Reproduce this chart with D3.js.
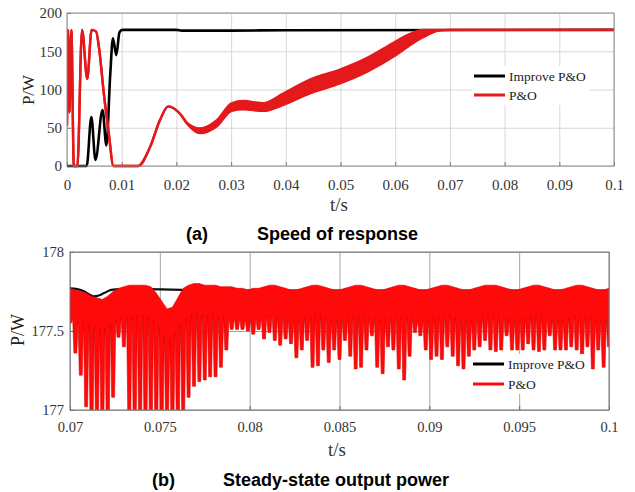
<!DOCTYPE html>
<html>
<head>
<meta charset="utf-8">
<script src="https://cdn.jsdelivr.net/npm/d3@7"></script>
<style>
  body { margin: 0; background: #fff; }
  svg { display: block; font-family: "Liberation Serif", "Times New Roman", serif; }
</style>
</head>
<body>
<script>
"use strict";

// ---- (a) speed of response ----
const improveT = [0, 0.0036, 0.00445, 0.0052, 0.0065, 0.0072, 0.0079, 0.0084, 0.0090, 0.0096, 0.0101, 0.0200, 0.0210, 0.0300, 0.0400, 0.1];
const improveP = [0, 0, 64, 8, 73, 27, 119, 167, 145, 175, 178, 178, 177, 177, 177.5, 178];

// P&O: upper / lower edge of the ripple band (equal where the trace is thin)
const pnoT  = [0, 0.0002, 0.00045, 0.0008, 0.00125, 0.0019, 0.00275, 0.0037, 0.0045, 0.0053, 0.0059, 0.0067, 0.0076, 0.0085, 0.0130, 0.0152, 0.0170, 0.0185, 0.0207, 0.0220, 0.0243, 0.0274, 0.0301, 0.0322, 0.0359, 0.0396, 0.0444, 0.0499, 0.0548, 0.0597, 0.0625, 0.0650, 0.0680, 0.0700, 0.1];
const pnoHi = [53, 178, 70, 178, 0, 0, 178, 114, 178, 176, 152, 97, 45, 0, 0, 25, 60, 78, 68, 56, 49, 60, 82, 85, 82, 95, 113, 126, 141, 161, 172, 178, 178, 178, 178];
const pnoLo = [53, 178, 70, 178, 0, 0, 178, 114, 178, 176, 152, 97, 45, 0, 0, 25, 60, 78, 68, 55, 43, 52, 72, 74, 72, 80, 95, 108, 123, 143, 157, 168, 177, 178, 178];

const topXTicks = [0, 0.01, 0.02, 0.03, 0.04, 0.05, 0.06, 0.07, 0.08, 0.09, 0.1];
const topYTicks = [0, 50, 100, 150, 200];

// ---- (b) steady-state output power ----
const steadyT = [0.07, 0.0704, 0.0708, 0.0711, 0.0713, 0.0716, 0.0719, 0.0723, 0.0728, 0.074, 0.0762, 0.0766, 0.08, 0.085, 0.09, 0.095, 0.1];
const steadyP = [177.77, 177.765, 177.75, 177.73, 177.72, 177.725, 177.74, 177.76, 177.765, 177.765, 177.76, 177.755, 177.755, 177.755, 177.755, 177.755, 177.755];

// P&O ripple: one dip per switching step
const spikeStart = 0.07;
const spikeStep = 0.0003;
const bandDepth = 0.19;
const pnoTop = [
  177.77, 177.76, 177.75, 177.74, 177.72, 177.71, 177.70, 177.72, 177.75, 177.77,
  177.78, 177.79, 177.79, 177.79, 177.79, 177.78, 177.74, 177.69, 177.64, 177.65,
  177.71, 177.77, 177.79, 177.80, 177.80, 177.79, 177.79, 177.79, 177.78, 177.78,
  177.78, 177.77, 177.77, 177.76, 177.77, 177.77, 177.78, 177.79, 177.79, 177.78,
  177.77, 177.76, 177.76, 177.77, 177.78, 177.79, 177.79, 177.78, 177.77, 177.76,
  177.76, 177.77, 177.78, 177.79, 177.79, 177.78, 177.77, 177.76, 177.76, 177.77,
  177.78, 177.79, 177.79, 177.78, 177.77, 177.76, 177.76, 177.77, 177.78, 177.79,
  177.79, 177.78, 177.77, 177.76, 177.76, 177.77, 177.78, 177.79, 177.79, 177.79,
  177.78, 177.77, 177.76, 177.76, 177.77, 177.78, 177.79, 177.79, 177.78, 177.77,
  177.76, 177.76, 177.77, 177.78, 177.79, 177.79, 177.78, 177.77, 177.76, 177.76, 177.77
];
const pnoLow = [
  177.55, 177.36, 177.22, 177.02, 176.9, 176.9, 176.9, 176.9, 177.08, 177.46,
  177.40, 176.95, 176.9, 176.9, 176.9, 176.9, 176.9, 176.9, 176.9, 176.9,
  176.9, 176.97, 177.08, 177.15, 177.18, 177.19, 177.21, 177.21, 177.27, 177.38,
  177.51, 177.51, 177.51, 177.50, 177.48, 177.51, 177.45, 177.49, 177.44, 177.41,
  177.45, 177.42, 177.33, 177.38, 177.44, 177.27, 177.28, 177.38, 177.30, 177.38,
  177.32, 177.44, 177.34, 177.26, 177.27, 177.38, 177.47, 177.27, 177.23, 177.40,
  177.38, 177.26, 177.19, 177.34, 177.49, 177.47, 177.38, 177.32, 177.34, 177.32,
  177.40, 177.34, 177.28, 177.26, 177.34, 177.38, 177.40, 177.44, 177.38, 177.37,
  177.38, 177.47, 177.38, 177.38, 177.38, 177.42, 177.38, 177.37, 177.38, 177.47,
  177.38, 177.38, 177.38, 177.40, 177.38, 177.32, 177.40, 177.26, 177.38, 177.27, 177.40
];

const botXTicks = [0.07, 0.075, 0.08, 0.085, 0.09, 0.095, 0.1];
const botYTicks = [177, 177.5, 178];

const legendNames = ["Improve P&O", "P&O"];

const width = 635, height = 492;
const svg = d3.select("body").append("svg")
  .attr("width", width)
  .attr("height", height);

const fmt = d => String(+d.toFixed(4));

// draws grid and axes for one panel
function panel(g, x, y, xTicks, yTicks, opt) {
  const [x0, x1] = x.range();
  const [y0, y1] = y.range();

  g.append("g")
    .attr("transform", `translate(0,${y0})`)
    .call(d3.axisBottom(x).tickValues(xTicks).tickSize(-(y0 - y1)).tickFormat(""))
    .call(a => a.select(".domain").remove())
    .selectAll("line").attr("stroke", opt.grid).attr("stroke-width", 0.9);
  g.append("g")
    .attr("transform", `translate(${x0},0)`)
    .call(d3.axisLeft(y).tickValues(yTicks).tickSize(-(x1 - x0)).tickFormat(""))
    .call(a => a.select(".domain").remove())
    .selectAll("line").attr("stroke", opt.grid).attr("stroke-width", 0.9);

  const xa = g.append("g")
    .attr("transform", `translate(0,${y0})`)
    .call(d3.axisBottom(x).tickValues(xTicks).tickSizeInner(-4).tickSizeOuter(0)
      .tickPadding(opt.xPad).tickFormat(fmt));
  const ya = g.append("g")
    .attr("transform", `translate(${x0},0)`)
    .call(d3.axisLeft(y).tickValues(yTicks).tickSizeInner(-4).tickSizeOuter(0)
      .tickPadding(opt.yPad).tickFormat(fmt));
  [xa, ya].forEach(a => {
    a.select(".domain").remove();
    a.selectAll("line").attr("stroke", opt.frame);
    a.selectAll("text")
      .attr("font-family", "Liberation Serif, serif")
      .attr("font-size", opt.tickFont)
      .attr("fill", "#333");
  });
}

function frame(g, x, y, color) {
  const [x0, x1] = x.range();
  const [y0, y1] = y.range();
  g.append("rect")
    .attr("x", x0).attr("y", y1)
    .attr("width", x1 - x0).attr("height", y0 - y1)
    .attr("fill", "none").attr("stroke", color).attr("stroke-width", 1);
}

function legend(g, lx, ly, gap, colors) {
  g.append("rect")
    .attr("x", lx - 2).attr("y", ly - 10)
    .attr("width", 118).attr("height", gap + 20)
    .attr("fill", "#fff");
  legendNames.forEach((name, i) => {
    g.append("line")
      .attr("x1", lx).attr("x2", lx + 31)
      .attr("y1", ly + i * gap).attr("y2", ly + i * gap)
      .attr("stroke", colors[i]).attr("stroke-width", 3);
    g.append("text")
      .attr("x", lx + 35).attr("y", ly + i * gap)
      .attr("dy", "0.35em")
      .attr("font-size", 13.5)
      .attr("fill", "#222")
      .text(name);
  });
}

// ================= panel (a) =================
const xTop = d3.scaleLinear().domain([0, 0.1]).range([67, 614]);
const yTop = d3.scaleLinear().domain([0, 200]).range([166, 13]);
const gTop = svg.append("g");

panel(gTop, xTop, yTop, topXTicks, topYTicks,
  { grid: "#d4d4d4", frame: "#777", xPad: 13, yPad: 5, tickFont: 15 });

svg.append("clipPath").attr("id", "clipTop")
  .append("rect").attr("x", 67).attr("y", 11).attr("width", 547).attr("height", 158);

const plotTop = gTop.append("g").attr("clip-path", "url(#clipTop)");

const improveData = improveT.map((t, i) => [t, improveP[i]]);
plotTop.append("path")
  .datum(improveData)
  .attr("fill", "none")
  .attr("stroke", "#000")
  .attr("stroke-width", 2.6)
  .attr("d", d3.line().x(d => xTop(d[0])).y(d => yTop(d[1])).curve(d3.curveMonotoneX));

const pnoData = pnoT.map((t, i) => ({ t: t, hi: pnoHi[i], lo: pnoLo[i] }));
const redTop = "#e3191c";
plotTop.append("path")
  .datum(pnoData)
  .attr("fill", redTop)
  .attr("d", d3.area().x(d => xTop(d.t)).y0(d => yTop(d.lo)).y1(d => yTop(d.hi)).curve(d3.curveMonotoneX));
["hi", "lo"].forEach(k => {
  plotTop.append("path")
    .datum(pnoData)
    .attr("fill", "none")
    .attr("stroke", redTop)
    .attr("stroke-width", 2.4)
    .attr("d", d3.line().x(d => xTop(d.t)).y(d => yTop(d[k])).curve(d3.curveMonotoneX));
});

frame(gTop, xTop, yTop, "#8a8a8a");
legend(gTop, 474, 76, 19, ["#000", redTop]);

gTop.append("text")
  .attr("transform", "translate(28,90) rotate(-90)")
  .attr("text-anchor", "middle").attr("dy", "0.35em")
  .attr("font-size", 17).attr("fill", "#222")
  .text("P/W");
gTop.append("text")
  .attr("x", 339).attr("y", 211)
  .attr("text-anchor", "middle")
  .attr("font-size", 19).attr("fill", "#333")
  .text("t/s");

// ================= panel (b) =================
const xBot = d3.scaleLinear().domain([0.07, 0.1]).range([70, 609]);
const yBot = d3.scaleLinear().domain([177, 178]).range([410, 252]);
const gBot = svg.append("g");

panel(gBot, xBot, yBot, botXTicks, botYTicks,
  { grid: "#9a9a9a", frame: "#666", xPad: 12, yPad: 6, tickFont: 14.5 });

svg.append("clipPath").attr("id", "clipBot")
  .append("rect").attr("x", 70).attr("y", 252).attr("width", 539).attr("height", 158);

const plotBot = gBot.append("g").attr("clip-path", "url(#clipBot)");

// black trace sits underneath the red ripple
const steadyData = steadyT.map((t, i) => [t, steadyP[i]]);
plotBot.append("path")
  .datum(steadyData)
  .attr("fill", "none")
  .attr("stroke", "#111")
  .attr("stroke-width", 2.2)
  .attr("d", d3.line().x(d => xBot(d[0])).y(d => yBot(d[1])).curve(d3.curveMonotoneX));

// ripple polygon: top envelope forward, dips and band back
const n = pnoTop.length;
const tOf = i => spikeStart + i * spikeStep;
const poly = [[tOf(0) - spikeStep / 2, pnoTop[0]]];
pnoTop.forEach((v, i) => poly.push([tOf(i), v]));
poly.push([tOf(n - 1) + spikeStep / 2, pnoTop[n - 1]]);
for (let i = n - 1; i >= 0; i--) {
  const nextTop = i < n - 1 ? pnoTop[i + 1] : pnoTop[i];
  poly.push([tOf(i) + spikeStep / 2, (pnoTop[i] + nextTop) / 2 - bandDepth]);
  poly.push([tOf(i) + spikeStep * 0.27, pnoLow[i]]);
  poly.push([tOf(i) - spikeStep * 0.27, pnoLow[i]]);
}
poly.push([tOf(0) - spikeStep / 2, pnoTop[0] - bandDepth]);

plotBot.append("path")
  .datum(poly)
  .attr("fill", "#ff0a0a")
  .attr("stroke", "#d80000")
  .attr("stroke-width", 0.6)
  .attr("stroke-linejoin", "round")
  .attr("d", d3.line().x(d => xBot(d[0])).y(d => yBot(d[1])).curve(d3.curveLinearClosed));

frame(gBot, xBot, yBot, "#777");
legend(gBot, 473, 364, 20, ["#000", "#ff0a0a"]);

gBot.append("text")
  .attr("transform", "translate(18,330) rotate(-90)")
  .attr("text-anchor", "middle").attr("dy", "0.35em")
  .attr("font-size", 18).attr("fill", "#222")
  .text("P/W");
gBot.append("text")
  .attr("x", 337).attr("y", 456)
  .attr("text-anchor", "middle")
  .attr("font-size", 19).attr("fill", "#333")
  .text("t/s");

// ---- captions ----
const captions = [
  { tag: "(a)", title: "Speed of response", x: 186, tx: 257, y: 240 },
  { tag: "(b)", title: "Steady-state output power", x: 152, tx: 223, y: 486 }
];
captions.forEach(c => {
  const t = svg.append("g")
    .attr("font-family", "Liberation Sans, Arial, sans-serif")
    .attr("font-weight", "bold")
    .attr("font-size", 18)
    .attr("fill", "#000");
  t.append("text").attr("x", c.x).attr("y", c.y).text(c.tag);
  t.append("text").attr("x", c.tx).attr("y", c.y).text(c.title);
});
</script>
</body>
</html>
